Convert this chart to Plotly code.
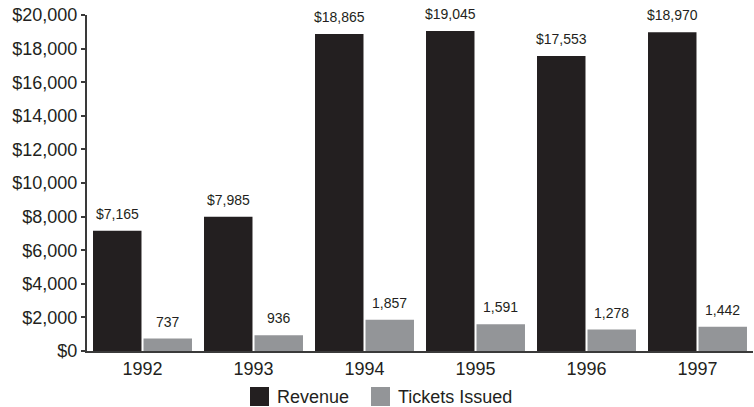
import plotly.graph_objects as go

years = ["1992", "1993", "1994", "1995", "1996", "1997"]
revenue = [7165, 7985, 18865, 19045, 17553, 18970]
tickets = [737, 936, 1857, 1591, 1278, 1442]
y_ticks = list(range(0, 20001, 2000))

DARK = "#231f20"
GRAY = "#939598"
TEXT = "#231f20"
FONT = "Liberation Sans, Arial, sans-serif"

W, H = 754, 407
ML, MR, MT, MB = 87, 1, 15, 56
BARGAP, GROUPGAP = 0.09, 0.04

fig = go.Figure()
fig.add_trace(go.Bar(name="Revenue", x=years, y=revenue, marker_color=DARK,
                     marker_line_width=0, offsetgroup="a"))
fig.add_trace(go.Bar(name="Tickets Issued", x=years, y=tickets, marker_color=GRAY,
                     marker_line_width=0, offsetgroup="b"))

# value labels above each bar, centred on each bar of the pair
off = (1 - BARGAP) / 4
annotations = []
for i, (yr, r, t) in enumerate(zip(years, revenue, tickets)):
    annotations.append(dict(x=i - off, y=r, xref="x", yref="y", text=f"${r:,}",
                            showarrow=False, yanchor="bottom", yshift=7,
                            font=dict(size=14, color=TEXT, family=FONT)))
    annotations.append(dict(x=i + off, y=t, xref="x", yref="y", text=f"{t:,}",
                            showarrow=False, yanchor="bottom", yshift=7,
                            font=dict(size=14, color=TEXT, family=FONT)))

# custom legend at the bottom
pw, ph = W - ML - MR, H - MT - MB
def px_x(p):
    return (p - ML) / pw
def px_y(p):
    return (H - MB - p) / ph

shapes = []
legend_items = [("Revenue", DARK, 250), ("Tickets Issued", GRAY, 371)]
for label, color, x0 in legend_items:
    shapes.append(dict(type="rect", xref="paper", yref="paper",
                       x0=px_x(x0), x1=px_x(x0 + 19), y0=px_y(406), y1=px_y(387),
                       fillcolor=color, line_width=0))
    annotations.append(dict(x=px_x(x0 + 25), y=px_y(397), xref="paper", yref="paper",
                            text=label, showarrow=False, xanchor="left", yanchor="middle",
                            font=dict(size=18, color=TEXT, family=FONT)))

fig.update_layout(
    width=W, height=H,
    margin=dict(l=ML, r=MR, t=MT, b=MB),
    paper_bgcolor="white", plot_bgcolor="white",
    barmode="group", bargap=BARGAP, bargroupgap=GROUPGAP,
    showlegend=False,
    font=dict(family=FONT, size=18, color=TEXT),
    annotations=annotations, shapes=shapes,
    xaxis=dict(showline=True, linecolor="#3a3a3a", linewidth=2, ticks="",
               showgrid=False, tickfont=dict(size=18, color=TEXT), zeroline=False),
    yaxis=dict(range=[0, 20000], tickvals=y_ticks,
               ticktext=[f"${v:,}" for v in y_ticks],
               showline=True, linecolor="#3a3a3a", linewidth=2,
               ticks="outside", ticklen=4, tickwidth=1.5, tickcolor="#3a3a3a",
               showgrid=False, zeroline=False, tickfont=dict(size=18, color=TEXT)),
)

fig.write_html("out.html")
